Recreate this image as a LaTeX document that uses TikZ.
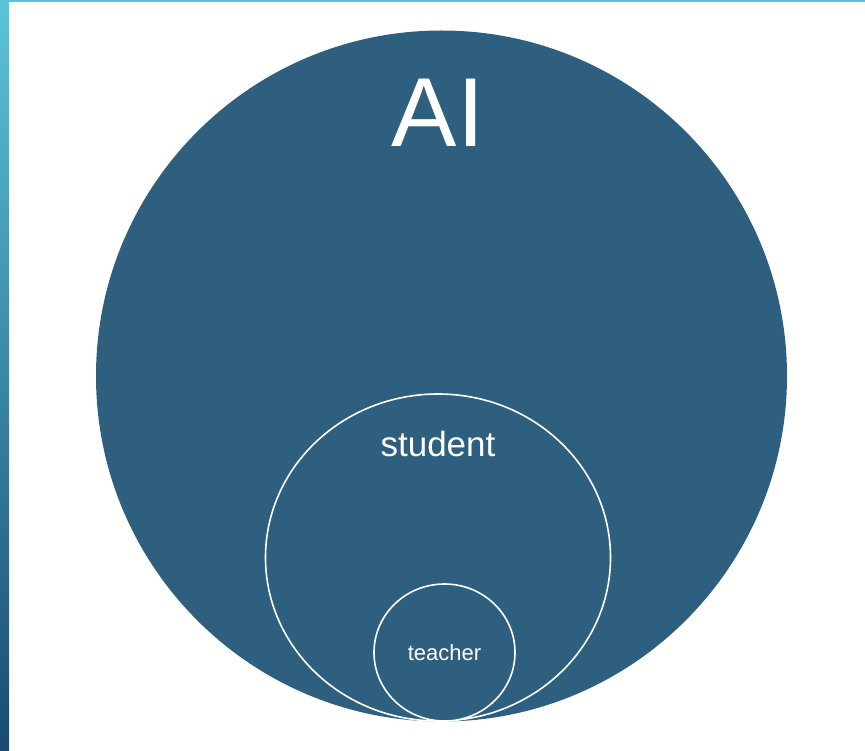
\documentclass[tikz,border=0pt]{standalone}
\usepackage{fontspec}
\setmainfont{Liberation Sans}
\usetikzlibrary{positioning, shapes.geometric}
\definecolor{setblue}{HTML}{2E5F7E}
\definecolor{barcyan}{HTML}{5BC4DA}
\definecolor{bardark}{HTML}{1A4A72}
\tikzset{
  set/.style={circle, fill=setblue, inner sep=0pt},
  subset/.style={ellipse, fill=setblue, inner sep=0pt, draw=white, line width=1.6pt},
  setname/.style={text=white, inner sep=0pt, anchor=center}
}
\begin{document}
\begin{tikzpicture}[x=1pt, y=-1pt]
	    \useasboundingbox (0,0) rectangle (865,751);
	    % frame
	    \shade[top color=barcyan, bottom color=bardark] (0,0) rectangle (9,751);
	    \fill[barcyan] (0,0) rectangle (865,2.5);
	    % sets
	    \node[set, minimum size=691pt] (ai) at (441.5,376) {};
	    \node[subset, minimum width=345pt, minimum height=327pt] (student) at (438,557.5) {};
	    \node[subset, minimum width=141pt, minimum height=137pt] (teacher) at (444.5,652.5) {};
	    \node[setname, font=\fontsize{98}{98}\selectfont] at (438,113) {AI};
	    \node[setname, font=\fontsize{35}{35}\selectfont] at (438,444) {student};
	    \node[setname, font=\fontsize{22}{22}\selectfont] at (444.5,653) {teacher};
	\end{tikzpicture}
\end{document}
